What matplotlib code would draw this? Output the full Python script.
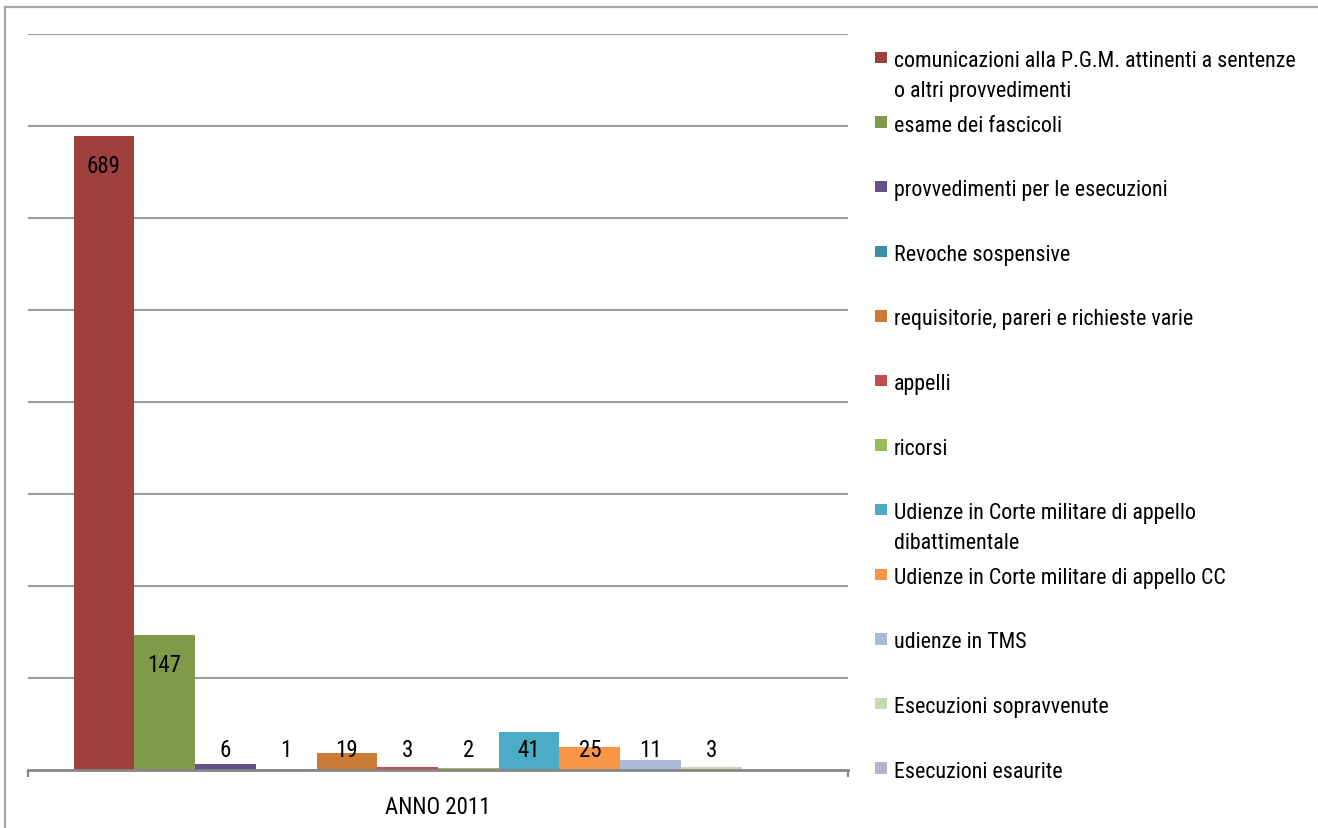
import numpy as np
import matplotlib
matplotlib.use("Agg")
import matplotlib.pyplot as plt
from matplotlib import font_manager
from matplotlib.lines import Line2D
from matplotlib.patches import Rectangle

# ---------------- data ----------------
category = "ANNO 2011"
series_labels = [
    "comunicazioni alla P.G.M. attinenti a sentenze\no altri provvedimenti",
    "esame dei fascicoli",
    "provvedimenti per le esecuzioni",
    "Revoche sospensive",
    "requisitorie, pareri e richieste varie",
    "appelli",
    "ricorsi",
    "Udienze in Corte militare di appello\ndibattimentale",
    "Udienze in Corte militare di appello CC",
    "udienze in TMS",
    "Esecuzioni sopravvenute",
    "Esecuzioni esaurite",
]
values = [689, 147, 6, 1, 19, 3, 2, 41, 25, 11, 3, np.nan]
colors = ["#9E413E", "#7F9A48", "#67508A", "#3B8EA5", "#CC7B37", "#C0504D",
          "#9BBB59", "#4BACC6", "#F79646", "#A9BBD9", "#C8D9AE", "#B9B0CC"]
y_ticks = [100, 200, 300, 400, 500, 600, 700, 800]

# ---------------- fonts ----------------
avail = {f.name for f in font_manager.fontManager.ttflist}
fam = None
for cand in ["Liberation Sans Narrow", "Roboto Condensed", "Open Sans Condensed", "Liberation Sans"]:
    if cand in avail:
        fam = cand
        break
if fam is None:
    fam = "DejaVu Sans"
plt.rcParams["font.family"] = [fam, "DejaVu Sans"]
FS = 16.5
FS_LEG = 15.8

W, H = 1318, 829
fig = plt.figure(figsize=(W / 100, H / 100), dpi=100)
fig.patch.set_facecolor("white")

# plot area (pixel geometry)
x0, x1 = 28, 848
y_base, y_top = 771, 34.5
ax = fig.add_axes([x0 / W, (H - y_base) / H, (x1 - x0) / W, (y_base - y_top) / H])
ax.set_xlim(-0.5, 0.5)
ax.set_ylim(0, 800)

n = len(values)
bw = 1.0 / (n + 1.5)
xs = -0.5 + 0.75 * bw + (np.arange(n) + 0.5) * bw
ax.bar(xs, values, width=bw, color=colors, linewidth=0, zorder=3)

# gridlines
for t in y_ticks:
    ax.axhline(t, color="#9C9C9C", lw=1.5, zorder=1)

for s in ["top", "right", "left"]:
    ax.spines[s].set_visible(False)
ax.spines["bottom"].set_color("#868686")
ax.spines["bottom"].set_linewidth(2.0)
ax.spines["bottom"].set_zorder(4)
ax.set_yticks([])

ax.set_xticks([0])
ax.set_xticklabels([category], fontsize=FS, color="black")
ax.tick_params(axis="x", which="major", length=0, pad=18)
ax.set_xticks([-0.5, 0.5], minor=True)
ax.tick_params(axis="x", which="minor", length=5, width=1.6, color="#868686", direction="out")

# data labels
for x, v in zip(xs, values):
    if np.isnan(v):
        continue
    yl = max(v - 32, 22)
    ax.text(x, yl, f"{int(v)}", ha="center", va="center", fontsize=FS, color="black", zorder=5)

# legend (manual layout)
leg_y0, leg_dy = 58.5, 64.6
for i, (lab, c) in enumerate(zip(series_labels, colors)):
    yc = leg_y0 + i * leg_dy
    sq = 11.5
    fig.patches.append(Rectangle(((875) / W, (H - yc - sq / 2) / H), sq / W, sq / H,
                                 transform=fig.transFigure, facecolor=c, edgecolor="none"))
    for k, line in enumerate(lab.split("\n")):
        yb = yc + 8.5 + k * 29.5
        fig.text(894 / W, (H - yb) / H, line, fontsize=FS_LEG, ha="left", va="baseline", color="black")

# outer border (top and left visible)
bc = "#A6A6A6"
fig.add_artist(Line2D([5 / W, 1.0], [(H - 8) / H, (H - 8) / H], transform=fig.transFigure, color=bc, lw=1.6))
fig.add_artist(Line2D([5 / W, 5 / W], [(H - 8) / H, 0], transform=fig.transFigure, color=bc, lw=1.6))

fig.savefig("out.png", dpi=100, facecolor="white")
